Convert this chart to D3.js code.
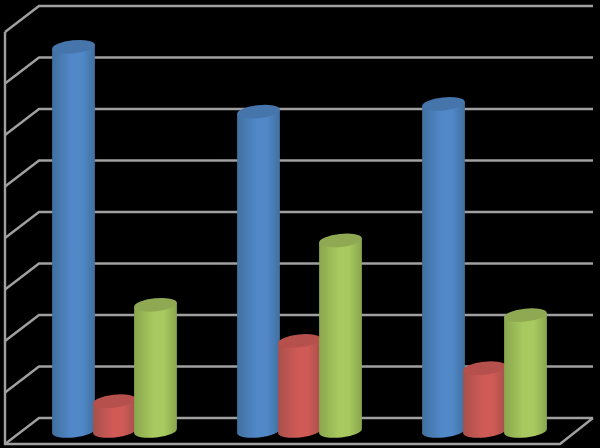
<!DOCTYPE html>
<html><head><meta charset="utf-8">
<script src="https://cdn.jsdelivr.net/npm/d3@7"></script>
<style>html,body{margin:0;padding:0;background:#000}svg{display:block;filter:blur(0.5px)}</style>
</head><body><svg id="c" width="600" height="448"></svg>
<script>
const categories = ["A", "B", "C"];
const seriesNames = ["Blue", "Red", "Green"];
const blueValues = [7.46, 6.2, 6.35];
const redValues = [0.58, 1.75, 1.22];
const greenValues = [2.45, 3.7, 2.25];
const gridTicks = [0, 1, 2, 3, 4, 5, 6, 7, 8];
const palette = {
  Blue: {edge: "#41709f", mid: "#5088c8", top: "#4675ab"},
  Red: {edge: "#a8504c", mid: "#cf5a56", top: "#b5504c"},
  Green: {edge: "#8aa64e", mid: "#a7c95f", top: "#8fa953"}
};
const seriesValues = {Blue: blueValues, Red: redValues, Green: greenValues};

const svg = d3.select("#c");
const defs = svg.append("defs");
seriesNames.forEach(n => {
  const g = defs.append("linearGradient").attr("id", "g" + n);
  g.append("stop").attr("offset", "0%").attr("stop-color", palette[n].edge);
  g.append("stop").attr("offset", "45%").attr("stop-color", palette[n].mid);
  g.append("stop").attr("offset", "70%").attr("stop-color", palette[n].mid);
  g.append("stop").attr("offset", "100%").attr("stop-color", palette[n].edge);
});

const depthX = 34;
const wallY = d3.scaleLinear().domain([0, 8]).range([418, 6]);
const frontY = d3.scaleLinear().domain([0, 8]).range([444, 32]);
const wallLeft = 39, wallRight = 594;
const barY = d3.scaleLinear().domain([0, 8]).range([431, 19]);

const grid = svg.append("g").attr("stroke", "#a0a0a0").attr("stroke-width", 2.4).attr("fill", "none");
gridTicks.forEach(t => {
  grid.append("path").attr("d", d3.line()([[wallRight - 1, wallY(t)], [wallLeft, wallY(t)], [wallLeft - depthX, frontY(t)]]));
});
grid.append("path").attr("d", d3.line()([[5, frontY(8)], [5, frontY(0)], [560, frontY(0)], [wallRight - 1, wallY(0)]]));

const xGroup = d3.scaleBand().domain(categories).range([22, 577]).padding(0);
const xBar = d3.scaleBand().domain(seriesNames).range([0, 123]).padding(0);
const offset = (xGroup.bandwidth() - 123) / 2;
const rx = 21.5, ry = 6.5, tilt = -6;

seriesNames.forEach(n => {
  categories.forEach((c, i) => {
    const cx = xGroup(c) + offset + xBar(n) + xBar.bandwidth() / 2;
    const top = barY(seriesValues[n][i]), bottom = barY(0);
    const dx = rx * Math.cos(tilt * Math.PI / 180), dy = rx * Math.sin(tilt * Math.PI / 180);
    const g = svg.append("g");
    g.append("path")
      .attr("fill", `url(#g${n})`)
      .attr("d", `M${cx - dx},${top - dy} L${cx - dx},${bottom - dy} A${rx},${ry} ${tilt} 0 0 ${cx + dx},${bottom + dy} L${cx + dx},${top + dy} Z`);
    g.append("ellipse")
      .attr("cx", cx).attr("cy", top).attr("rx", rx).attr("ry", ry)
      .attr("transform", `rotate(${tilt} ${cx} ${top})`)
      .attr("fill", palette[n].top);
  });
});
</script></body></html>
